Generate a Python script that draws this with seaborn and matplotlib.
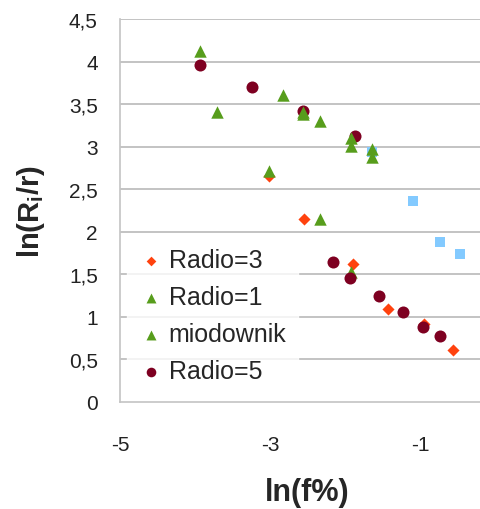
import matplotlib
matplotlib.use("Agg")
import matplotlib.pyplot as plt
import seaborn as sns
import pandas as pd
from matplotlib.ticker import FuncFormatter

# data
radio3_x = [-3.01, -2.55, -1.89, -1.43, -0.95, -0.56]
radio3_y = [2.66, 2.15, 1.62, 1.09, 0.92, 0.61]

radio1_x = [-3.71, -3.01, -2.56, -2.33, -1.92, -1.64, -1.92]
radio1_y = [3.41, 2.71, 3.38, 2.15, 3.01, 2.88, 1.53]

miod_x = [-3.93, -2.83, -2.56, -2.33, -1.92, -1.64]
miod_y = [4.12, 3.61, 3.41, 3.30, 3.10, 2.97]

radio5_x = [-3.93, -3.24, -2.56, -1.87, -2.16, -1.93, -1.55, -1.23, -0.96, -0.73]
radio5_y = [3.96, 3.70, 3.42, 3.13, 1.65, 1.46, 1.25, 1.06, 0.88, 0.78]

other_x = [-1.64, -1.09, -0.73, -0.47]
other_y = [2.94, 2.36, 1.88, 1.74]

x_ticks = [-5, -3, -1]
y_ticks = [0, 0.5, 1, 1.5, 2, 2.5, 3, 3.5, 4, 4.5]

sns.set_style("white")
plt.rcParams["font.family"] = ["Liberation Sans", "DejaVu Sans"]
plt.rcParams["mathtext.fontset"] = "custom"
plt.rcParams["mathtext.rm"] = "Liberation Sans:bold"
plt.rcParams["mathtext.it"] = "Liberation Sans:bold"

fig = plt.figure(figsize=(4.81, 5.10), dpi=100)
# the original chart is cut off on the right, x axis really runs to 0
ax = fig.add_axes([120 / 481, 107 / 510, 375 / 481, 383 / 510])

grid_c = "#b3b3b3"
for yv in y_ticks[1:]:
    ax.axhline(yv, color=grid_c, lw=1.1, zorder=0)

def draw(xs, ys, color, marker, size, label):
    df = pd.DataFrame({"x": xs, "y": ys})
    sns.scatterplot(data=df, x="x", y="y", ax=ax, color=color, marker=marker,
                    s=size, linewidth=0, label=label, zorder=3)

draw(other_x, other_y, "#83caff", "s", 55, None)
draw(radio3_x, radio3_y, "#ff420e", "D", 38, "Radio=3")
draw(radio1_x, radio1_y, "#579d1c", "^", 80, "Radio=1")
draw(radio5_x, radio5_y, "#7e0021", "o", 75, "Radio=5")
draw(miod_x, miod_y, "#579d1c", "^", 80, "miodownik")

ax.set_xlim(-5, 0)
ax.set_ylim(0, 4.5)
ax.set_xticks(x_ticks)
ax.set_yticks(y_ticks)
ax.yaxis.set_major_formatter(FuncFormatter(lambda v, p: f"{v:g}".replace(".", ",")))
ax.xaxis.set_major_formatter(FuncFormatter(lambda v, p: f"{v:g}"))
ax.tick_params(axis="x", length=5.5, width=1.2, color="#c4c4c4", pad=18, labelsize=15, labelcolor="#222222")
ax.tick_params(axis="y", length=0, pad=16, labelsize=15, labelcolor="#222222")

for side in ["top", "right"]:
    ax.spines[side].set_visible(False)
for side in ["left", "bottom"]:
    ax.spines[side].set_color("#c4c4c4")
    ax.spines[side].set_linewidth(1.2)

ax.set_xlabel("ln(f%)", fontsize=22, fontweight="bold", labelpad=17)
ax.set_ylabel(r"ln(R$_{i}$/r)", fontsize=21, fontweight="bold", labelpad=16)

h, l = ax.get_legend_handles_labels()
order = ["Radio=3", "Radio=1", "miodownik", "Radio=5"]
hh = [h[l.index(k)] for k in order]
leg = ax.legend(hh, order, loc="upper left", bbox_to_anchor=(0.0, 0.45), frameon=True,
                fontsize=18, handletextpad=0.2, labelspacing=0.52, borderpad=0.45,
                borderaxespad=0.3, markerscale=0.8, handlelength=1.0)
leg.get_frame().set_facecolor("white")
leg.get_frame().set_edgecolor("white")
leg.set_zorder(2)

fig.savefig("out.png", dpi=100)
